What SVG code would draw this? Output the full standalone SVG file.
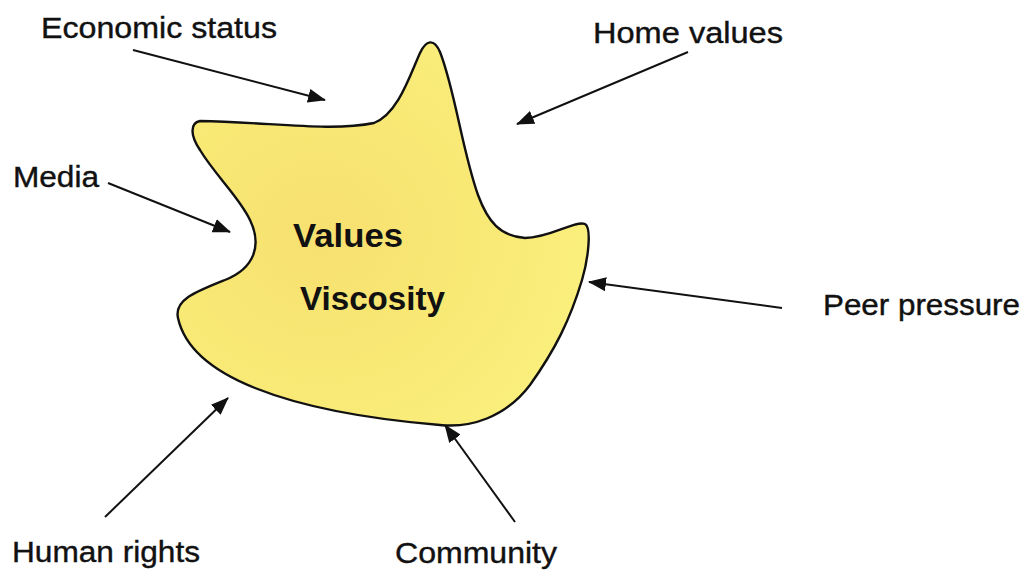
<svg xmlns="http://www.w3.org/2000/svg" width="1025" height="571" viewBox="0 0 1025 571">
<style>
.lbl{font-family:"Liberation Sans",Arial,sans-serif;font-size:30px;fill:#111;stroke:#111;stroke-width:0.4}
.ctr{font-family:"Liberation Sans",Arial,sans-serif;font-size:33px;font-weight:bold;fill:#111}
.conn{stroke:#111;stroke-width:2;fill:none;marker-end:url(#ah)}
</style>
<defs>
<marker id="ah" viewBox="0 0 18 14" refX="17" refY="7" markerWidth="18" markerHeight="14" markerUnits="userSpaceOnUse" orient="auto">
<path d="M0,0 L18,7 L0,14 Z" fill="#111"/>
</marker>
<radialGradient id="yg" cx="0.35" cy="0.5" r="0.7">
<stop offset="0" stop-color="#f7e070"/>
<stop offset="0.5" stop-color="#f8e874"/>
<stop offset="1" stop-color="#fbf07e"/>
</radialGradient>
</defs>
<rect width="1025" height="571" fill="#fff"/>
<g id="blob">
<path d="M200,121 C270,122 330,132 374,123 C398,114 410,75 420,53 C426,40 434,38 440,52 C455,90 462,150 478,195 C488,222 500,236 525,238 C550,238 575,220 585,224 C592,228 588,260 582,280 C570,320 555,350 530,385 C505,418 470,428 440,425 C380,420 310,410 255,388 C215,372 185,350 178,318 C174,300 195,292 225,280 C255,268 262,245 250,220 C240,198 215,175 200,150 C190,135 190,123 200,121 Z" fill="url(#yg)" stroke="#111" stroke-width="2.4"/>
<text class="ctr" x="293" y="247" textLength="110" lengthAdjust="spacingAndGlyphs">Values</text>
<text class="ctr" x="300" y="310" textLength="145" lengthAdjust="spacingAndGlyphs">Viscosity</text>
</g>
<g id="economic"><text class="lbl" x="41" y="38" textLength="236" lengthAdjust="spacingAndGlyphs">Economic status</text></g>
<g id="home"><text class="lbl" x="593" y="43" textLength="190" lengthAdjust="spacingAndGlyphs">Home values</text></g>
<g id="media"><text class="lbl" x="13" y="187" textLength="86" lengthAdjust="spacingAndGlyphs">Media</text></g>
<g id="peer"><text class="lbl" x="823" y="315" textLength="197" lengthAdjust="spacingAndGlyphs">Peer pressure</text></g>
<g id="human"><text class="lbl" x="12" y="562" textLength="188" lengthAdjust="spacingAndGlyphs">Human rights</text></g>
<g id="community"><text class="lbl" x="395" y="563" textLength="162" lengthAdjust="spacingAndGlyphs">Community</text></g>
<g id="connectors">
<line class="conn" x1="133" y1="50" x2="325" y2="100"/>
<line class="conn" x1="688" y1="52" x2="517" y2="124"/>
<line class="conn" x1="108" y1="183" x2="230" y2="232"/>
<line class="conn" x1="782" y1="308" x2="589" y2="282"/>
<line class="conn" x1="105" y1="517" x2="228" y2="398"/>
<line class="conn" x1="515" y1="522" x2="445" y2="425"/>
</g>
</svg>
